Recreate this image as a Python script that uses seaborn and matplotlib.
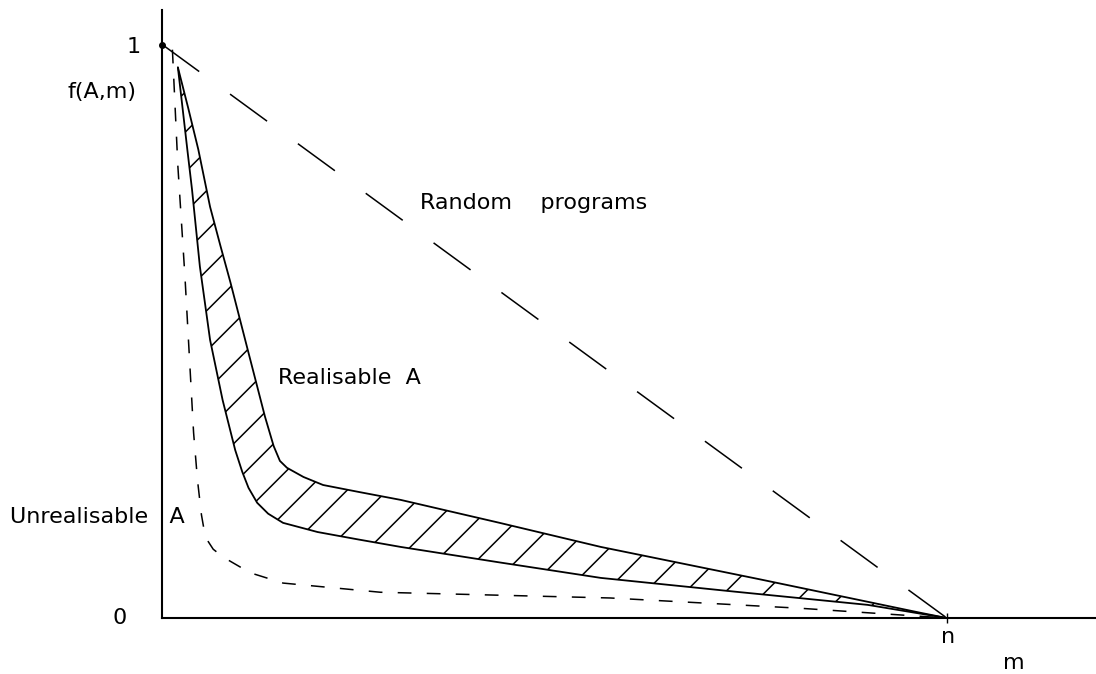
import seaborn as sns
import matplotlib.pyplot as plt
from matplotlib.collections import LineCollection
import numpy as np

# m in units of n, f(A,m) from 0 to 1
upper_m = [0.020, 0.033, 0.046, 0.061, 0.074, 0.087, 0.108, 0.131, 0.142, 0.150, 0.159, 0.180, 0.205, 0.250, 0.304, 0.430, 0.559, 0.760, 0.967, 1.0]
upper_f = [0.960, 0.890, 0.817, 0.717, 0.650, 0.585, 0.473, 0.351, 0.300, 0.274, 0.262, 0.246, 0.232, 0.220, 0.206, 0.166, 0.124, 0.068, 0.009, 0.0]

lower_m = [0.020, 0.032, 0.038, 0.048, 0.061, 0.077, 0.093, 0.102, 0.110, 0.121, 0.135, 0.154, 0.198, 0.250, 0.304, 0.430, 0.559, 0.730, 0.899, 1.0]
lower_f = [0.960, 0.817, 0.747, 0.613, 0.485, 0.380, 0.293, 0.255, 0.227, 0.201, 0.182, 0.166, 0.150, 0.137, 0.124, 0.097, 0.070, 0.046, 0.023, 0.0]

unreal_m = [0.013, 0.020, 0.029, 0.040, 0.045, 0.050, 0.055, 0.065, 0.078, 0.112, 0.154, 0.278, 0.571, 0.814, 1.0]
unreal_f = [0.991, 0.787, 0.595, 0.323, 0.240, 0.180, 0.141, 0.120, 0.106, 0.079, 0.061, 0.045, 0.035, 0.017, 0.0]

random_m = [0.0, 1.0]
random_f = [1.0, 0.0]

sns.set_style("white")
plt.rcParams['font.family'] = ['DejaVu Sans']

fig = plt.figure(figsize=(10.96, 6.74), dpi=100)
ax = fig.add_axes([0.148, 0.083, 0.852, 0.902])
ax.set_xlim(0, 1.19)
ax.set_ylim(0, 1.06)

sns.lineplot(x=upper_m, y=upper_f, color='black', lw=1.3, sort=False, ax=ax)
sns.lineplot(x=lower_m, y=lower_f, color='black', lw=1.3, sort=False, ax=ax)
sns.lineplot(x=unreal_m, y=unreal_f, color='black', lw=1.1, sort=False, ax=ax,
             linestyle=(0, (9, 10)))
sns.lineplot(x=random_m, y=random_f, color='black', lw=1.1, sort=False, ax=ax,
             linestyle=(0, (30, 25)))

# sparse hand-drawn style hatching between the realisable curves:
# "/" strokes at 45 deg on screen, joining the lower curve to the upper one
pu = ax.transData.transform(np.column_stack([upper_m, upper_f]))
pl = ax.transData.transform(np.column_stack([lower_m, lower_f]))
uu = pu[:, 0] - pu[:, 1]
ul = pl[:, 0] - pl[:, 1]
step = 40
u = np.arange(uu[0] + step * 0.8, uu[-1] - step * 0.5, step)
a = np.column_stack([np.interp(u, ul, pl[:, 0]), np.interp(u, ul, pl[:, 1])])
b = np.column_stack([np.interp(u, uu, pu[:, 0]), np.interp(u, uu, pu[:, 1])])
inv = ax.transData.inverted()
segs = [[inv.transform(p), inv.transform(q)] for p, q in zip(a, b)]
ax.add_collection(LineCollection(segs, colors='black', linewidths=1.1))

ax.set_xticks([])
ax.set_yticks([])
for s in ['top', 'right']:
    ax.spines[s].set_visible(False)
for s in ['left', 'bottom']:
    ax.spines[s].set_color('black')
    ax.spines[s].set_linewidth(1.5)

ax.plot([0], [1], marker='o', ms=4, color='black', clip_on=False)
ax.plot([1], [0], marker='|', ms=7, color='black', clip_on=False)

fs = 16
kw = dict(fontsize=fs, color='black', va='center', clip_on=False)
ax.text(-0.037, 0.995, '1', ha='center', **kw)
ax.text(-0.077, 0.918, 'f(A,m)', ha='center', **kw)
ax.text(-0.054, 0.0, '0', ha='center', **kw)
ax.text(1.001, -0.033, 'n', ha='center', **kw)
ax.text(1.085, -0.079, 'm', ha='center', **kw)
ax.text(0.329, 0.724, 'Random    programs', ha='left', **kw)
ax.text(0.147, 0.419, 'Realisable  A', ha='left', **kw)
ax.text(-0.194, 0.176, 'Unrealisable   A', ha='left', **kw)

fig.savefig('out.png', dpi=100)
